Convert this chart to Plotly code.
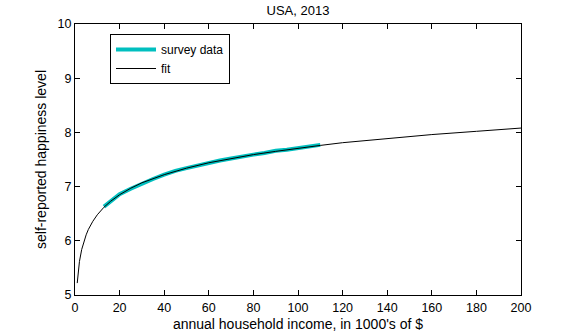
import plotly.graph_objects as go

# Survey responses: household income (thousands of $) vs. mean happiness
survey_income = [13, 16, 20, 25, 30, 35, 40, 45, 50, 55, 60, 65, 70, 75, 80, 85, 90, 95, 100, 105, 110]
survey_happiness = [6.63, 6.73, 6.86, 6.96, 7.06, 7.14, 7.22, 7.29, 7.34, 7.39, 7.44, 7.48, 7.52, 7.56, 7.59, 7.62, 7.66, 7.68, 7.71, 7.74, 7.77]

# Logarithmic fit evaluated over the full income range
fit_income = [1, 2, 3, 4, 5, 6, 8, 10, 13, 16, 20, 25, 30, 40, 50, 60, 70, 80, 90, 100, 110, 120, 140, 160, 180, 200]
fit_happiness = [5.22, 5.62, 5.84, 5.99, 6.11, 6.21, 6.36, 6.48, 6.62, 6.73, 6.85, 6.97, 7.07, 7.22, 7.34, 7.44,
                 7.52, 7.59, 7.65, 7.71, 7.76, 7.81, 7.89, 7.96, 8.02, 8.08]

x_ticks = [0, 20, 40, 60, 80, 100, 120, 140, 160, 180, 200]
y_ticks = [5, 6, 7, 8, 9, 10]

FONT = "Liberation Sans, Arial, sans-serif"

fig = go.Figure()
fig.add_trace(go.Scatter(
    x=survey_income, y=survey_happiness, mode="lines", name="survey data",
    line=dict(color="#00BFBF", width=4),
))
fig.add_trace(go.Scatter(
    x=fit_income, y=fit_happiness, mode="lines", name="fit",
    line=dict(color="black", width=1),
))

axis_common = dict(
    showline=True, linecolor="black", linewidth=1, mirror="ticks",
    ticks="inside", ticklen=5, tickcolor="black", tickwidth=1,
    showgrid=False, zeroline=False, automargin=False,
    tickfont=dict(family=FONT, size=12.5, color="black"),
)

fig.update_layout(
    width=576, height=335,
    margin=dict(l=75, r=55, t=24, b=40),
    paper_bgcolor="white", plot_bgcolor="white",
    font=dict(family=FONT, color="black"),
    title=dict(text="USA, 2013", x=0.5, xref="paper", xanchor="center",
               y=1 - 10 / 335, yref="container", yanchor="middle",
               font=dict(family=FONT, size=13, color="black")),
    xaxis=dict(range=[0, 200], tickvals=x_ticks, ticklabelstandoff=1,
               title=dict(text="annual household income, in 1000's of $",
                          font=dict(family=FONT, size=14, color="black"), standoff=5),
               **axis_common),
    yaxis=dict(range=[5, 10], tickvals=y_ticks,
               title=dict(text="self-reported happiness level",
                          font=dict(family=FONT, size=14, color="black"), standoff=7),
               **axis_common),
    showlegend=True,
    legend=dict(x=(110 - 75) / 446, y=1 - (34 - 24) / 271, xanchor="left", yanchor="top",
                bordercolor="black", borderwidth=1, bgcolor="white",
                font=dict(family=FONT, size=12, color="black"),
                itemwidth=40, tracegroupgap=0),
)

fig.write_html("out.html")
